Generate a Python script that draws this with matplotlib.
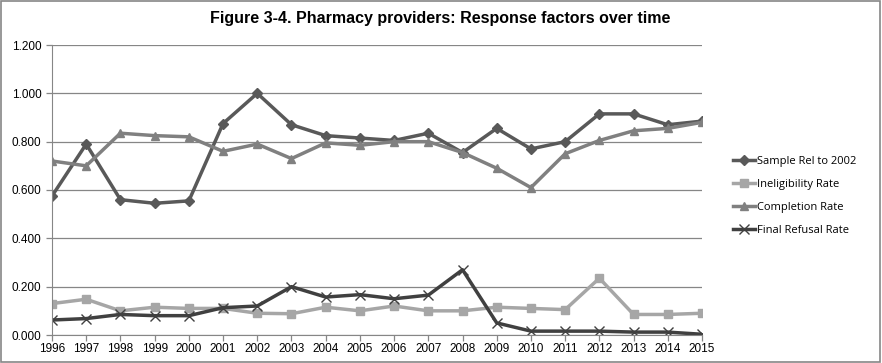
import matplotlib
matplotlib.use("Agg")
import matplotlib.pyplot as plt

years = list(range(1996, 2016))
sample_rel = [0.575, 0.79, 0.56, 0.545, 0.555, 0.875, 1.0, 0.87, 0.825, 0.815,
              0.805, 0.835, 0.755, 0.855, 0.77, 0.80, 0.915, 0.915, 0.87, 0.885]
inelig = [0.13, 0.148, 0.10, 0.115, 0.11, 0.11, 0.09, 0.088, 0.115, 0.10,
          0.12, 0.10, 0.10, 0.115, 0.11, 0.105, 0.235, 0.085, 0.085, 0.09]
completion = [0.72, 0.70, 0.835, 0.825, 0.82, 0.76, 0.79, 0.73, 0.795, 0.785,
              0.80, 0.80, 0.755, 0.69, 0.61, 0.75, 0.805, 0.845, 0.855, 0.88]
refusal = [0.062, 0.068, 0.085, 0.08, 0.08, 0.113, 0.12, 0.20, 0.157, 0.167,
           0.15, 0.165, 0.27, 0.05, 0.016, 0.016, 0.016, 0.012, 0.012, 0.003]
yticks = [0.0, 0.2, 0.4, 0.6, 0.8, 1.0, 1.2]

fig = plt.figure(figsize=(8.82, 3.63), dpi=100)
ax = fig.add_axes([52/882, 1-335/363, 650/882, 290/363])

ax.plot(years, sample_rel, color="#595959", lw=2.5, marker="D", ms=5, label="Sample Rel to 2002")
ax.plot(years, inelig, color="#A6A6A6", lw=2.5, marker="s", ms=6, label="Ineligibility Rate")
ax.plot(years, completion, color="#808080", lw=2.5, marker="^", ms=6, label="Completion Rate")
ax.plot(years, refusal, color="#404040", lw=2.5, marker="x", ms=7, mew=1.0, label="Final Refusal Rate")

ax.set_xlim(1996, 2015)
ax.set_ylim(0, 1.2)
ax.set_yticks(yticks)
ax.set_yticklabels([f"{v:.3f}" for v in yticks])
ax.set_xticks(years)
ax.set_xticklabels([str(y) for y in years])
ax.grid(axis="y", color="#868686", lw=0.9)
ax.set_axisbelow(True)
for s in ["top", "right"]:
    ax.spines[s].set_visible(False)
ax.spines["left"].set_color("#868686")
ax.spines["bottom"].set_color("#868686")
ax.tick_params(axis="both", colors="#868686", labelcolor="black", labelsize=8.5, length=4, width=0.9)
ax.tick_params(axis="x", pad=2)
for lab in ax.get_xticklabels() + ax.get_yticklabels():
    lab.set_family("Liberation Sans")

fig.text(440/882, 1-19/363, "Figure 3-4. Pharmacy providers: Response factors over time",
         ha="center", va="center", fontsize=11.5, fontweight="bold", family="Liberation Sans")

leg = ax.legend(loc="center left", bbox_to_anchor=((733-52)/650, (335-196)/290), frameon=False,
                prop={"family": "Open Sans", "size": 8}, handlelength=2.0, labelspacing=1.1,
                handletextpad=0.2, borderaxespad=0, borderpad=0)

fig.patches.append(plt.Rectangle((0.001, 0.002), 0.997, 0.995, transform=fig.transFigure,
                                 fill=False, edgecolor="#868686", lw=1.2))
fig.savefig("out.png", dpi=100)
